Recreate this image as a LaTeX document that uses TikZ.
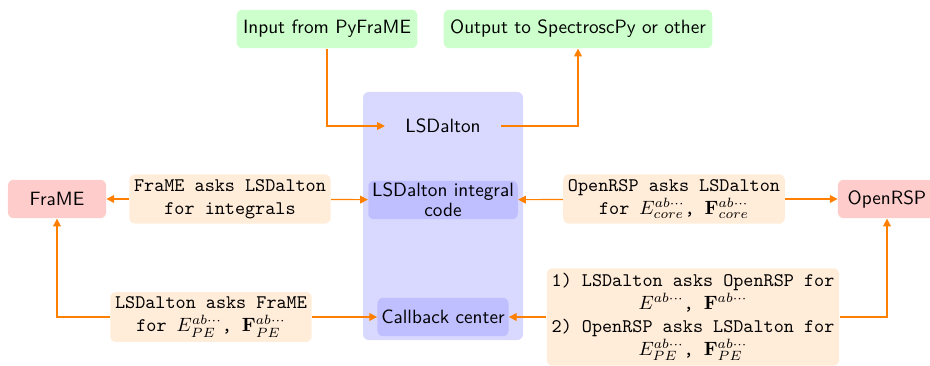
\documentclass[tikz,border=0pt]{standalone}
\usepackage{amsmath,amssymb}
\usepackage{xcolor}
\usepackage{tikz}
\usetikzlibrary{arrows.meta}
\usetikzlibrary{positioning}

\begin{document}
\begin{tikzpicture}[
  x=0.52pt, y=-0.52pt,
  every node/.style={font=\sffamily, rounded corners=3pt},
  io/.style={fill=green!20, minimum height=20pt},
  prog/.style={fill=red!20, minimum height=20pt, minimum width=51pt},
  part/.style={fill=blue!25, minimum height=20pt, inner xsep=2pt, inner ysep=1pt, align=center},
  ask/.style={fill=orange!15, font=\ttfamily, align=center, inner sep=2.5pt},
  link/.style={draw=orange, line width=0.6pt, -{Triangle[length=4pt,width=4pt]}}
]
\useasboundingbox (0,0) rectangle (930,366);

% LSDalton module
\node[fill=blue!15, minimum width=83.2pt, minimum height=129pt] (lsbox) at (443,216) {};
\node[minimum width=60pt] (lsd) at (443,126) {LSDalton};
\node[part] (integral) at (443,200) {LSDalton integral\\[-1.5pt] code};
\node[part] (callback) at (443,317) {Callback center};

% outside
\node[io] (input) at (327,29) {Input from PyFraME};
\node[io] (output) at (578,29) {Output to SpectroscPy or other};
\node[prog] (frame) at (57,199) {FraME};
\node[prog] (openrsp) at (887,199) {OpenRSP};

% requests
\node[ask] (askint) at (230,199) {FraME asks LSDalton\\for integrals};
\node[ask] (askcore) at (674,199) {OpenRSP asks LSDalton\\for $E^{ab\cdots}_{core}$, $\mathbf{F}^{ab\cdots}_{core}$};
\node[ask] (askpe) at (211,317) {LSDalton asks FraME\\for $E^{ab\cdots}_{PE}$, $\mathbf{F}^{ab\cdots}_{PE}$};
\node[ask] (askrsp) at (693,317) {1) LSDalton asks OpenRSP for\\$E^{ab\cdots}$, $\mathbf{F}^{ab\cdots}$\\2) OpenRSP asks LSDalton for\\$E^{ab\cdots}_{PE}$, $\mathbf{F}^{ab\cdots}_{PE}$};

\draw[link] (input) |- (lsd);
\draw[link] (lsd) -| (output);
\draw[link] (askint) -- (frame);
\draw[link] (askint) -- (integral);
\draw[link] (askcore) -- (integral);
\draw[link] (askcore) -- (openrsp);
\draw[link] (askpe) -| (frame);
\draw[link] (askpe) -- (callback);
\draw[link] (askrsp) -- (callback);
\draw[link] (askrsp) -| (openrsp);
\end{tikzpicture}
\end{document}
